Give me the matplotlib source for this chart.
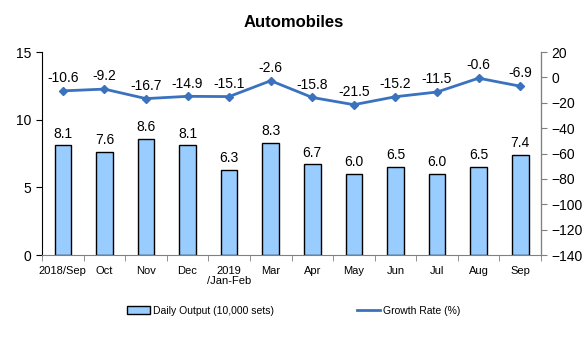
import matplotlib
matplotlib.use("Agg")
import matplotlib.pyplot as plt
from matplotlib.lines import Line2D
import numpy as np

plt.rcParams['font.family'] = ['Liberation Sans', 'DejaVu Sans']

# data
months = ["2018/Sep", "Oct", "Nov", "Dec", "2019\n/Jan-Feb", "Mar",
          "Apr", "May", "Jun", "Jul", "Aug", "Sep"]
daily_output = [8.1, 7.6, 8.6, 8.1, 6.3, 8.3, 6.7, 6.0, 6.5, 6.0, 6.5, 7.4]
growth_rate = [-10.6, -9.2, -16.7, -14.9, -15.1, -2.6, -15.8, -21.5,
               -15.2, -11.5, -0.6, -6.9]

fig = plt.figure(figsize=(5.87, 3.47), dpi=100)
ax = fig.add_axes([0.0716, 0.265, 0.85, 0.585])
x = np.arange(len(months))

bars = ax.bar(x, daily_output, width=0.4, color="#99CCFF", edgecolor="black",
              linewidth=1.0, label="Daily Output (10,000 sets)")
for xi, v in zip(x, daily_output):
    ax.text(xi, v + 0.35, "%.1f" % v, ha="center", va="bottom", fontsize=10)

ax.set_xlim(-0.5, len(months) - 0.5)
ax.set_ylim(0, 15)
ax.set_yticks([0, 5, 10, 15])
ax.set_xticks(x)
ax.set_xticklabels(months, fontsize=8, linespacing=1.0)
ax.set_xticks(np.arange(-0.5, len(months)), minor=True)
ax.tick_params(axis="x", which="major", length=0, pad=8)
ax.tick_params(axis="x", which="minor", length=4, color="#808080", direction="out")
ax.tick_params(axis="y", labelsize=10, length=4, direction="out")
ax.spines["top"].set_visible(False)
ax.spines["bottom"].set_color("#808080")

ax2 = ax.twinx()
ax2.plot(x, growth_rate, color="#3A72BE", linewidth=2, marker="D",
         markersize=4, label="Growth Rate (%)")
for xi, v in zip(x, growth_rate):
    ax2.text(xi, v + 4.5, "%.1f" % v, ha="center", va="bottom", fontsize=10)
ax2.set_ylim(-140, 20)
ax2.set_yticks(np.arange(-140, 21, 20))
ax2.tick_params(axis="y", labelsize=10, length=4, direction="out", color="#808080")
ax2.spines["top"].set_visible(False)
ax2.spines["right"].set_color("#808080")
ax2.spines["left"].set_visible(False)
ax2.spines["bottom"].set_visible(False)

fig.text(0.5, 0.935, "Automobiles", ha="center", va="center",
         fontsize=12, fontweight="bold")

fig.legend([bars, Line2D([0], [0], color="#3A72BE", linewidth=2)],
           ["Daily Output (10,000 sets)", "Growth Rate (%)"],
           loc="center", bbox_to_anchor=(0.5, 0.105), ncol=2, frameon=False,
           fontsize=7.5, handlelength=2.2, columnspacing=8, handletextpad=0.3)

fig.savefig("out.png", dpi=100)
